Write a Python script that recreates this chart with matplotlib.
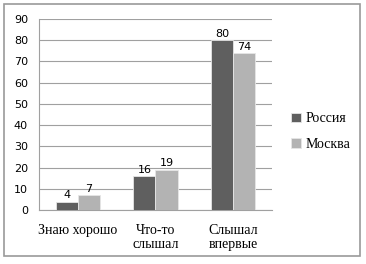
import numpy as np
import matplotlib.pyplot as plt
from matplotlib.patches import Rectangle

# Data
kategori = ["Знаю хорошо", "Что-то\nслышал", "Слышал\nвпервые"]
rossiya = [4, 16, 80]
moskva = [7, 19, 74]

fig = plt.figure(figsize=(3.66, 2.64), dpi=100)
ax = fig.add_axes([0.1066, 0.2045, 0.6365, 0.7235])

x = np.arange(len(kategori))
w = 0.285
b1 = ax.bar(x - w / 2, rossiya, w, color="#5f5f5f", label="Россия",
            edgecolor="#e6e6e6", linewidth=0.6, zorder=3)
b2 = ax.bar(x + w / 2, moskva, w, color="#b3b3b3", label="Москва",
            edgecolor="#e6e6e6", linewidth=0.6, zorder=3)

for bars in (b1, b2):
    for b in bars:
        ax.annotate(f"{int(b.get_height())}", (b.get_x() + b.get_width() / 2, b.get_height()),
                    xytext=(0, 1), textcoords="offset points", ha="center", va="bottom",
                    fontsize=8, family="DejaVu Sans")

ax.set_xlim(-0.5, 2.5)
ax.set_ylim(0, 90)
ax.set_yticks(range(0, 91, 10))
ax.set_xticks(x)
ax.set_xticklabels(kategori, family="Liberation Serif", fontsize=10, linespacing=1.15)
ax.tick_params(axis="y", labelsize=8, length=0, pad=8)
ax.tick_params(axis="x", length=0, pad=10)
ax.grid(axis="y", color="#a0a0a0", linewidth=0.8, zorder=0)
for s in ("top", "right"):
    ax.spines[s].set_visible(False)
ax.spines["left"].set_color("#a0a0a0")
ax.spines["bottom"].set_color("#a0a0a0")

ax.legend(loc="center left", bbox_to_anchor=(1.03, 0.41), frameon=False,
          prop={"family": "Liberation Serif", "size": 10},
          handlelength=0.7, handleheight=0.7, handletextpad=0.3, labelspacing=0.9)

# bingkai luar
fig.add_artist(Rectangle((4 / 366, 8 / 264), 356 / 366, 252 / 264, transform=fig.transFigure,
                         fill=False, edgecolor="#9a9a9a", linewidth=1.2))

plt.savefig("out.png", dpi=100)
